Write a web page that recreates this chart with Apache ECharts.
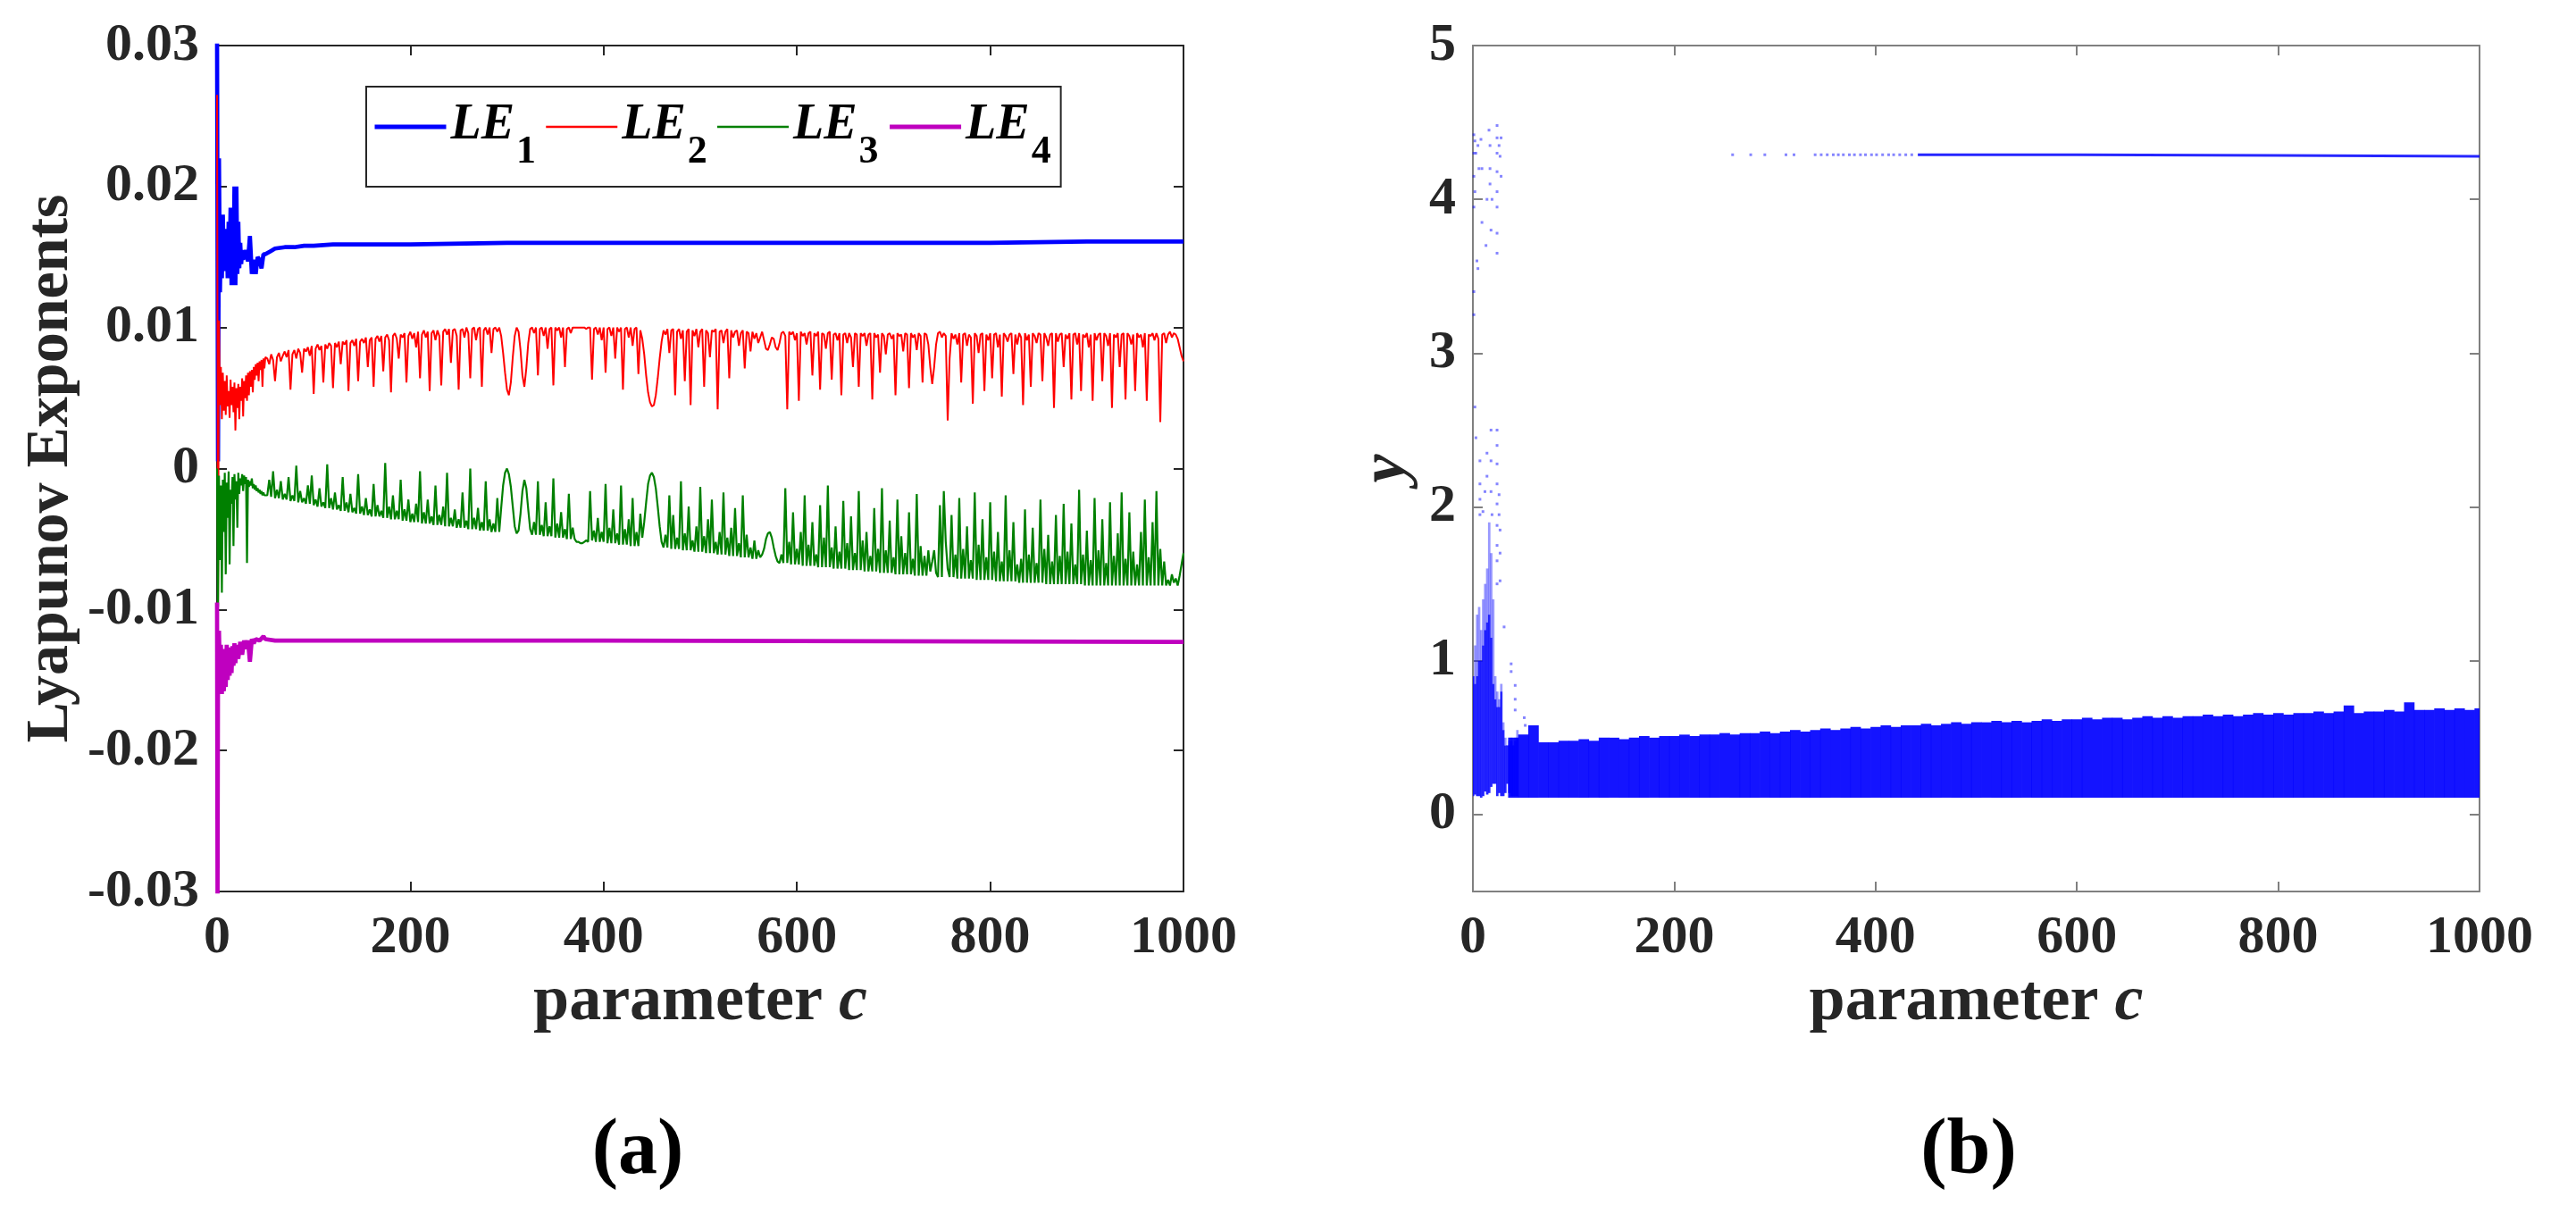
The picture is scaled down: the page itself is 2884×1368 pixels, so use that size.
<!DOCTYPE html>
<html>
<head>
<meta charset="utf-8">
<title>Lyapunov exponents and bifurcation</title>
<script src="https://cdn.jsdelivr.net/npm/echarts@6.0.0/dist/echarts.min.js"></script>
<style>
  html, body { margin: 0; padding: 0; background: #fff; }
  #chart { width: 2884px; height: 1368px; }
</style>
</head>
<body>
<div id="chart"></div>
<script>
// ---- (a) Lyapunov exponents vs parameter c ----
const xTicks = [0, 200, 400, 600, 800, 1000];
const leTicks = [-0.03, -0.02, -0.01, 0, 0.01, 0.02, 0.03];

const le1C = [0, 1, 2, 3, 4, 5, 6, 7, 8, 9, 10, 11, 12, 13, 14, 15, 16, 17, 18, 19, 20, 21, 22, 23, 24, 25, 26, 27, 28, 29,
  30, 32, 34, 36, 38, 40, 42, 44, 46, 48, 50, 55, 60, 70, 80, 90, 100, 120, 150, 200, 300, 400, 500, 600, 700, 800, 900, 950, 1000];
const le1 = [0.031, 0.0005, 0.022, 0.0125, 0.017, 0.0135, 0.018, 0.014, 0.0165, 0.0145, 0.017, 0.0135, 0.0175, 0.0145, 0.0185,
  0.013, 0.018, 0.0135, 0.02, 0.013, 0.02, 0.0138, 0.0175, 0.0142, 0.016, 0.0145, 0.0155, 0.0148, 0.0152, 0.015,
  0.0155, 0.0147, 0.0165, 0.0138, 0.0148, 0.0138, 0.015, 0.0148, 0.0142, 0.0152, 0.0152, 0.0154, 0.0156, 0.0157, 0.0157,
  0.0158, 0.0158, 0.0159, 0.0159, 0.0159, 0.016, 0.016, 0.016, 0.016, 0.016, 0.016, 0.0161, 0.0161, 0.0161];

const le4C = [0, 0.5, 1, 2, 3, 4, 5, 6, 7, 8, 9, 10, 11, 12, 13, 14, 15, 16, 17, 18, 19, 20,
  22, 24, 26, 28, 30, 32, 34, 36, 38, 40, 44, 48, 50, 60, 100, 400, 1000];
const le4 = [-0.0095, -0.031, -0.014, -0.0115, -0.015, -0.0125, -0.016, -0.0128, -0.0158, -0.013, -0.0155, -0.0125,
  -0.015, -0.013, -0.0147, -0.0127, -0.0145, -0.0126, -0.014, -0.0124, -0.0138, -0.0125,
  -0.0135, -0.0123, -0.0132, -0.0122, -0.0128, -0.0122, -0.0137, -0.0121, -0.0124, -0.0121,
  -0.0122, -0.0119, -0.0121, -0.0122, -0.0122, -0.0122, -0.0123];

// LE2 / LE3 sampled at c = 0..50 (step 1), then 52..1000 (step 2)
const cDense = [];
for (let c = 0; c <= 50; c += 1) cDense.push(c);
for (let c = 52; c <= 1000; c += 2) cDense.push(c);

const le2 = [
  // c = 0..50
  0.0265, -0.0095, 0.0105, 0.0045, 0.0072, 0.0035, 0.0068, 0.0041, 0.0062, 0.0038,
  0.0066, 0.0044, 0.0055, 0.0036, 0.0063, 0.0045, 0.0058, 0.004, 0.0061, 0.0027,
  0.0057, 0.0043, 0.006, 0.0035, 0.0058, 0.0048, 0.0064, 0.0037, 0.0062, 0.005,
  0.0066, 0.0048, 0.0068, 0.0052, 0.0069, 0.0058, 0.007, 0.0054, 0.0072, 0.0063,
  0.0074, 0.0066, 0.0075, 0.0062, 0.0076, 0.007, 0.0077, 0.0058, 0.0078, 0.0071, 0.0079,
  // c = 52..1000, 20 units per row
  0.0078, 0.0074, 0.0081, 0.0077, 0.0062, 0.0079, 0.0082, 0.0076, 0.008, 0.0083,
  0.0079, 0.0084, 0.0056, 0.0081, 0.0084, 0.0078, 0.0085, 0.0082, 0.0068, 0.0085,
  0.0083, 0.0086, 0.008, 0.0087, 0.0053, 0.0085, 0.0088, 0.0084, 0.0087, 0.0061,
  0.0088, 0.0085, 0.0089, 0.0087, 0.0057, 0.0089, 0.0086, 0.009, 0.0074, 0.009,
  0.0088, 0.0091, 0.0055, 0.0089, 0.0091, 0.0087, 0.0092, 0.0062, 0.009, 0.0092,
  0.0089, 0.0093, 0.0072, 0.0091, 0.0093, 0.0058, 0.0092, 0.0094, 0.009, 0.0094,
  0.0069, 0.0093, 0.0095, 0.0091, 0.0054, 0.0094, 0.0096, 0.0092, 0.0078, 0.0095,
  0.0093, 0.0096, 0.0061, 0.0094, 0.0097, 0.0092, 0.0096, 0.0086, 0.0097, 0.0064,
  0.0095, 0.0098, 0.0093, 0.0097, 0.0055, 0.0096, 0.0098, 0.0091, 0.0098, 0.0094,
  0.0059, 0.0097, 0.0099, 0.0095, 0.0099, 0.0075, 0.0098, 0.0099, 0.0094, 0.0056,
  0.0098, 0.0099, 0.0093, 0.01, 0.0096, 0.0064, 0.0099, 0.01, 0.0091, 0.0099,
  0.01, 0.0058, 0.0098, 0.01, 0.0095, 0.01, 0.0082, 0.0099, 0.01, 0.0097,
  0.01, 0.0094, 0.0082, 0.0068, 0.0056, 0.0052, 0.0061, 0.0079, 0.0094, 0.01,
  0.0097, 0.0084, 0.0066, 0.0058, 0.0071, 0.0089, 0.0099, 0.01, 0.0096, 0.01,
  0.0066, 0.0099, 0.01, 0.0094, 0.01, 0.0085, 0.0099, 0.01, 0.0059, 0.01,
  0.0098, 0.01, 0.0093, 0.01, 0.0072, 0.0099, 0.01, 0.0096, 0.01, 0.01,
  0.01, 0.01, 0.01, 0.01, 0.01, 0.0099, 0.01, 0.01, 0.0063, 0.0099,
  0.01, 0.0095, 0.01, 0.0091, 0.01, 0.0068, 0.0099, 0.01, 0.0094, 0.01,
  0.0078, 0.01, 0.0097, 0.01, 0.0056, 0.0099, 0.01, 0.0093, 0.01, 0.0087,
  0.0099, 0.01, 0.0067, 0.0098, 0.0092, 0.0081, 0.0066, 0.0054, 0.0047, 0.0044,
  0.0045, 0.0052, 0.0064, 0.0078, 0.009, 0.0098, 0.0095, 0.0099, 0.0082, 0.0098,
  0.0099, 0.0052, 0.0097, 0.0099, 0.0092, 0.0098, 0.0062, 0.0097, 0.0099, 0.0045,
  0.0098, 0.0094, 0.0099, 0.0086, 0.0097, 0.0099, 0.0058, 0.0098, 0.0096, 0.0079,
  0.0098, 0.0097, 0.0099, 0.0042, 0.0097, 0.0098, 0.0089, 0.0097, 0.0099, 0.0064,
  0.0098, 0.0093, 0.0097, 0.0098, 0.0087, 0.0096, 0.0098, 0.0071, 0.0097, 0.0096,
  0.0083, 0.0097, 0.0092, 0.0096, 0.0089, 0.0093, 0.0097, 0.0091, 0.0085, 0.0084,
  0.0088, 0.0093, 0.0092, 0.0086, 0.0084, 0.0089, 0.0096, 0.0097, 0.0094, 0.0042,
  0.0097, 0.0095, 0.0097, 0.0091, 0.0096, 0.0048, 0.0097, 0.0094, 0.0096, 0.0088,
  0.0096, 0.0097, 0.0066, 0.0096, 0.0094, 0.0097, 0.0056, 0.0096, 0.0095, 0.0085,
  0.0096, 0.0097, 0.0063, 0.0095, 0.0096, 0.0091, 0.0096, 0.0052, 0.0095, 0.0096,
  0.0089, 0.0096, 0.0093, 0.0072, 0.0096, 0.0095, 0.0058, 0.0096, 0.0094, 0.0096,
  0.0087, 0.0095, 0.0096, 0.0049, 0.0096, 0.0093, 0.0095, 0.0068, 0.0096, 0.0094,
  0.0081, 0.0095, 0.0096, 0.0092, 0.0095, 0.0052, 0.0096, 0.0094, 0.0095, 0.0083,
  0.0096, 0.0095, 0.0057, 0.0096, 0.0093, 0.0095, 0.0084, 0.0096, 0.0094, 0.0061,
  0.0096, 0.0095, 0.0088, 0.0072, 0.006, 0.0072, 0.0088, 0.0096, 0.0097, 0.0093,
  0.0096, 0.0094, 0.0034, 0.0078, 0.0096, 0.0092, 0.0095, 0.0088, 0.0096, 0.0061,
  0.0095, 0.0096, 0.0087, 0.0095, 0.0093, 0.0046, 0.0096, 0.0094, 0.0082, 0.0095,
  0.0096, 0.0055, 0.0095, 0.0091, 0.0096, 0.0064, 0.0095, 0.0096, 0.0086, 0.0095,
  0.0051, 0.0096, 0.0094, 0.009, 0.0095, 0.0096, 0.0067, 0.0095, 0.0088, 0.0096,
  0.0093, 0.0045, 0.0096, 0.0091, 0.0095, 0.0058, 0.0096, 0.0094, 0.0089, 0.0096,
  0.0095, 0.0062, 0.0096, 0.0093, 0.0087, 0.0095, 0.0096, 0.0043, 0.0096, 0.009,
  0.0095, 0.0096, 0.0072, 0.0095, 0.0092, 0.0096, 0.0049, 0.0095, 0.0096, 0.0088,
  0.0096, 0.0055, 0.0095, 0.0093, 0.0096, 0.0086, 0.0095, 0.0048, 0.0096, 0.0091,
  0.0095, 0.0096, 0.0062, 0.0096, 0.0094, 0.0087, 0.0096, 0.0043, 0.0095, 0.0093,
  0.0096, 0.0072, 0.0095, 0.0096, 0.0049, 0.0096, 0.0094, 0.0088, 0.0095, 0.0055,
  0.0096, 0.0093, 0.0095, 0.0086, 0.0096, 0.0048, 0.0095, 0.0094, 0.0096, 0.0091,
  0.0096, 0.0092, 0.0033, 0.0095, 0.0096, 0.0089, 0.0095, 0.0097, 0.0093, 0.0096,
  0.0095, 0.0092, 0.0086, 0.008, 0.0076,
];

const le3 = [
  // c = 0..50
  0.0, -0.0098, -0.0005, -0.0065, -0.0012, -0.0088, -0.0008, -0.0045, -0.0003, -0.0075,
  -0.001, -0.0035, -0.0002, -0.0068, -0.0015, -0.0025, -0.0006, -0.0055, -0.0004, -0.0022,
  -0.0009, -0.0042, -0.0003, -0.0018, -0.0007, -0.0012, -0.0004, -0.0016, -0.0005, -0.0011,
  -0.0006, -0.0067, -0.0008, -0.0013, -0.0009, -0.0012, -0.0007, -0.0014, -0.0011, -0.0015,
  -0.0012, -0.0016, -0.0014, -0.0017, -0.0015, -0.0018, -0.0016, -0.0019, -0.0017, -0.0019, -0.0018,
  // c = 52..1000, 20 units per row
  -0.0019, -0.0008, -0.002, -0.0002, -0.0021, -0.0015, -0.0021, -0.0009, -0.0022, -0.0018,
  -0.0022, -0.0006, -0.0023, -0.0019, -0.0023, 0.0002, -0.0024, -0.0016, -0.0024, -0.0021,
  -0.0025, -0.0012, -0.0025, -0.0005, -0.0026, -0.0022, -0.0027, -0.0014, -0.0027, -0.0024,
  -0.0028, 0.0003, -0.0028, -0.0021, -0.0029, -0.0017, -0.0029, -0.0026, -0.003, -0.0006,
  -0.003, -0.0024, -0.0031, -0.0018, -0.0031, -0.0028, -0.0032, -0.0004, -0.0032, -0.0027,
  -0.0033, -0.0021, -0.0033, -0.0029, -0.0034, -0.0011, -0.0034, -0.0026, -0.0034, -0.003,
  -0.0035, 0.0004, -0.0035, -0.0027, -0.0036, -0.0019, -0.0036, -0.003, -0.0036, -0.0008,
  -0.0037, -0.0029, -0.0037, -0.0022, -0.0038, -0.0032, -0.0038, -0.0025, -0.0038, -0.0002,
  -0.0039, -0.0031, -0.0039, -0.0022, -0.0039, -0.0034, -0.004, -0.0012, -0.004, -0.0033,
  -0.004, -0.0027, -0.0041, -0.0003, -0.0041, -0.0035, -0.0041, -0.0029, -0.0042, -0.0036,
  -0.0042, -0.0017, -0.0042, -0.0037, -0.0043, 0.0, -0.0043, -0.0035, -0.0043, -0.0028,
  -0.0044, -0.0038, -0.0044, -0.0009, -0.0044, -0.0036, -0.0045, -0.0039, -0.0045, -0.0021,
  -0.0045, -0.0028, -0.0012, -0.0003, 0.0, -0.0004, -0.0013, -0.0027, -0.0041, -0.0046,
  -0.0044, -0.0032, -0.0016, -0.0008, -0.0014, -0.0029, -0.0043, -0.0047, -0.0038, -0.0047,
  -0.0009, -0.0047, -0.004, -0.0048, -0.0024, -0.0048, -0.0041, -0.0048, -0.0007, -0.0049,
  -0.0039, -0.0049, -0.0031, -0.0049, -0.0043, -0.005, -0.0018, -0.005, -0.0042, -0.005,
  -0.0052, -0.0052, -0.0053, -0.0053, -0.0052, -0.0051, -0.0052, -0.0016, -0.0051, -0.0044,
  -0.0052, -0.0035, -0.0052, -0.0045, -0.0052, -0.0011, -0.0053, -0.0042, -0.0053, -0.0029,
  -0.0053, -0.0046, -0.0054, -0.0012, -0.0054, -0.0043, -0.0054, -0.0036, -0.0055, -0.0021,
  -0.0055, -0.0045, -0.0055, -0.0032, -0.0049, -0.0038, -0.0024, -0.0011, -0.0005, -0.0003,
  -0.0006, -0.0014, -0.0027, -0.0041, -0.0052, -0.0056, -0.0047, -0.0056, -0.0019, -0.0057,
  -0.0033, -0.0057, -0.0049, -0.0057, -0.0009, -0.0058, -0.0046, -0.0058, -0.0027, -0.0058,
  -0.0051, -0.0059, -0.0041, -0.0059, -0.0013, -0.0059, -0.0048, -0.006, -0.0036, -0.006,
  -0.0022, -0.006, -0.0052, -0.0061, -0.0045, -0.0061, -0.0017, -0.0061, -0.0049, -0.0062,
  -0.0042, -0.0062, -0.0028, -0.0062, -0.0053, -0.0063, -0.0019, -0.0063, -0.0047, -0.0063,
  -0.0056, -0.0064, -0.0051, -0.0064, -0.0058, -0.0063, -0.0061, -0.0057, -0.005, -0.0046,
  -0.0045, -0.0049, -0.0056, -0.0062, -0.0066, -0.0067, -0.0061, -0.0067, -0.0014, -0.0067,
  -0.0052, -0.0068, -0.0031, -0.0068, -0.0057, -0.0068, -0.0045, -0.0069, -0.0019, -0.0069,
  -0.0054, -0.0069, -0.0038, -0.0069, -0.0061, -0.007, -0.0026, -0.007, -0.0049, -0.007,
  -0.0012, -0.007, -0.0056, -0.0071, -0.0041, -0.0071, -0.0059, -0.0071, -0.0023, -0.0071,
  -0.0053, -0.0072, -0.0034, -0.0072, -0.006, -0.0072, -0.0016, -0.0072, -0.0051, -0.0073,
  -0.0045, -0.0073, -0.0062, -0.0073, -0.0028, -0.0073, -0.0057, -0.0074, -0.0014, -0.0074,
  -0.0058, -0.0074, -0.0037, -0.0074, -0.0063, -0.0075, -0.0022, -0.0075, -0.0048, -0.0075,
  -0.006, -0.0075, -0.0031, -0.0075, -0.0064, -0.0076, -0.0018, -0.0076, -0.0055, -0.0076,
  -0.0062, -0.0076, -0.0058, -0.0073, -0.0066, -0.0058, -0.0074, -0.0077, -0.0026, -0.0077,
  -0.0016, -0.0052, -0.0071, -0.0077, -0.0033, -0.0077, -0.0061, -0.0078, -0.0021, -0.0078,
  -0.0057, -0.0078, -0.0041, -0.0078, -0.0065, -0.0078, -0.0017, -0.0079, -0.0054, -0.0079,
  -0.0036, -0.0079, -0.0063, -0.0079, -0.0024, -0.0079, -0.0059, -0.008, -0.0045, -0.008,
  -0.0066, -0.008, -0.0019, -0.008, -0.0058, -0.008, -0.0038, -0.008, -0.0068, -0.0081,
  -0.0064, -0.0081, -0.0029, -0.0081, -0.0061, -0.0081, -0.0042, -0.0081, -0.0067, -0.0081,
  -0.0022, -0.0081, -0.0057, -0.0082, -0.0047, -0.0082, -0.0066, -0.0082, -0.0033, -0.0082,
  -0.0062, -0.0082, -0.0025, -0.0082, -0.0059, -0.0082, -0.0039, -0.0082, -0.0068, -0.0082,
  -0.0015, -0.0082, -0.0061, -0.0083, -0.0044, -0.0083, -0.0065, -0.0083, -0.0021, -0.0083,
  -0.0058, -0.0083, -0.0036, -0.0083, -0.0067, -0.0083, -0.0024, -0.0083, -0.0062, -0.0083,
  -0.0046, -0.0083, -0.0017, -0.0083, -0.0064, -0.0083, -0.0031, -0.0083, -0.0059, -0.0083,
  -0.0068, -0.0083, -0.0045, -0.0083, -0.0022, -0.0083, -0.0063, -0.0083, -0.0038, -0.0083,
  -0.0016, -0.0083, -0.0057, -0.0083, -0.0066, -0.0083, -0.0079, -0.0083, -0.0075, -0.0081,
  -0.0078, -0.0083, -0.0076, -0.0068, -0.006,
];

// ---- (b) bifurcation diagram of y vs parameter c ----
const yTicks = [0, 1, 2, 3, 4, 5];

// main chaotic band, one column every 10 units of c from 40 to 1000
const bandLow = 0.11;
const bandTop = [
  0.5, 0.52, 0.58, 0.47, 0.47, 0.48, 0.48, 0.49, 0.48, 0.5,
  0.5, 0.49, 0.5, 0.51, 0.5, 0.51, 0.51, 0.52, 0.51, 0.52,
  0.52, 0.53, 0.52, 0.53, 0.53, 0.54, 0.53, 0.54, 0.55, 0.54,
  0.55, 0.56, 0.55, 0.56, 0.57, 0.56, 0.57, 0.58, 0.57, 0.58,
  0.58, 0.59, 0.58, 0.59, 0.6, 0.59, 0.6, 0.6, 0.61, 0.6,
  0.61, 0.6, 0.61, 0.62, 0.61, 0.62, 0.62, 0.63, 0.62, 0.63,
  0.63, 0.62, 0.63, 0.64, 0.63, 0.64, 0.63, 0.64, 0.64, 0.65,
  0.64, 0.65, 0.64, 0.65, 0.66, 0.65, 0.66, 0.65, 0.66, 0.66,
  0.67, 0.66, 0.67, 0.71, 0.66, 0.67, 0.67, 0.68, 0.67, 0.73,
  0.68, 0.68, 0.69, 0.68, 0.69, 0.68, 0.69,
];
const bandC = [];
for (let c = 40; c <= 1000; c += 10) bandC.push(c);

// transient region at small c
const transC = [0, 2, 4, 6, 8, 10, 12, 14, 16, 18, 20, 22, 24, 26, 28, 30, 32, 34, 36, 38, 40, 42, 44];
const transLow = [0.12, 0.13, 0.12, 0.12, 0.11, 0.12, 0.15, 0.13, 0.14, 0.18, 0.2, 0.2, 0.12, 0.14, 0.12, 0.12, 0.14, 0.2, 0.14, 0.12, 0.12, 0.12, 0.12];
const transCore = [0.9, 0.85, 0.9, 1.0, 1.0, 1.1, 1.2, 1.25, 1.3, 1.15, 0.85, 0.75, 0.7, 0.7, 0.8, 0.55, 0.45, 0.45, 0.45, 0.48, 0.45, 0.48, 0.5];
const transHigh = [0.9, 1.1, 1.3, 1.35, 1.2, 1.4, 1.5, 1.6, 1.9, 1.7, 1.4, 0.9, 0.8, 0.75, 0.85, 0.6, 0.5, 0.45, 0.48, 0.5, 0.45, 0.5, 0.55];

const dotC = [1, 1, 1, 1, 1, 1, 2, 2, 3, 4, 5, 5, 6, 8, 9, 9, 13, 14, 16, 17, 17, 17, 18, 19,
  24, 24, 24, 24, 24, 24, 24, 24, 26, 27, 28, 28,
  2, 3, 7, 7, 7, 7, 10, 12, 14, 14, 18, 18, 18, 19, 24, 24, 24, 24, 24, 24, 24, 24, 24,
  26, 26, 27, 27, 27, 31, 38, 38, 42, 42, 42, 51, 52];
const dotY = [4.42, 4.3, 4.15, 3.95, 3.4, 3.25, 4.05, 4.38, 4.3, 3.6, 3.55, 4.35, 4.2, 4.39, 4.2, 3.85, 3.7, 4.0, 4.45, 4.35, 4.2, 4.1, 3.8, 4.0,
  4.48, 4.4, 4.3, 4.18, 4.05, 3.95, 3.78, 3.65, 4.35, 4.28, 4.15, 4.4,
  2.65, 2.45, 2.3, 2.15, 2.05, 1.95, 1.97, 2.1, 2.35, 2.2, 2.5, 2.3, 2.1, 1.95, 2.5, 2.4, 2.28, 2.15, 2.02, 1.88, 1.75, 1.65, 1.5,
  2.08, 1.95, 1.85, 1.7, 1.52, 1.22, 0.98, 0.93, 0.84, 0.75, 0.68, 0.63, 0.58];

// period-1 branch near y = 4.28
const upperDotC = [258, 276, 290, 311, 319, 340, 346, 352, 358, 363, 368, 374, 379, 385, 390, 396, 401, 407, 413, 418, 424, 430, 436];
const upperDotY = [4.29, 4.29, 4.29, 4.29, 4.29, 4.29, 4.29, 4.29, 4.29, 4.29, 4.29, 4.29, 4.29, 4.29, 4.29, 4.29, 4.29, 4.29, 4.29, 4.29, 4.29, 4.29, 4.29];
const upperLineC = [442, 600, 800, 1000];
const upperLineY = [4.29, 4.29, 4.285, 4.28];

const zip = (xs, ys) => xs.map((x, i) => [x, ys[i]]);

const FONT = '"Liberation Serif", "Times New Roman", serif';
const INK = '#262626';

function rangeBars(step, opacity) {
  return function (params, api) {
    const c = api.value(0);
    const top = api.coord([c, api.value(2)]);
    const bottom = api.coord([c, api.value(1)]);
    const w = api.size([step, 0])[0];
    return {
      type: 'rect',
      shape: { x: top[0] - w / 2, y: top[1], width: w + 0.5, height: bottom[1] - top[1] },
      style: { fill: '#0000ff', opacity },
    };
  };
}

function boxAxis(extra, color) {
  return Object.assign({
    type: 'value',
    axisLine: { show: true, onZero: false, lineStyle: { color, width: 2 } },
    axisTick: { show: true, inside: true, length: 11, lineStyle: { color, width: 2 } },
    splitLine: { show: false },
    axisLabel: { show: false },
  }, extra);
}

const tickLabel = { show: true, fontFamily: FONT, fontWeight: 'bold', fontSize: 60, color: INK, formatter: v => String(v) };
const nameRich = {
  n: { fontFamily: FONT, fontWeight: 'bold', fontSize: 72, color: INK },
  i: { fontFamily: FONT, fontWeight: 'bold', fontStyle: 'italic', fontSize: 72, color: INK },
};
const legendLine = [5, 2.4, 2.4, 5];

const myChart = echarts.init(document.getElementById('chart'));
const option = {
  animation: false,
  backgroundColor: '#fff',
  grid: [
    { left: 243, top: 51, width: 1082, height: 947 },
    { left: 1649, top: 51, width: 1127, height: 947 },
  ],
  legend: {
    left: 410,
    top: 97,
    padding: [16, 11, 16, 7],
    itemWidth: 80,
    itemHeight: 14,
    itemGap: 10,
    backgroundColor: '#fff',
    borderColor: INK,
    borderWidth: 2,
    selectedMode: false,
    itemStyle: { opacity: 0 },
    data: ['LE1', 'LE2', 'LE3', 'LE4'].map((name, i) => ({ name, lineStyle: { width: legendLine[i] } })),
    formatter: name => '{i|LE}{s|' + name.slice(2) + '}',
    textStyle: {
      rich: {
        i: { fontFamily: FONT, fontWeight: 'bold', fontStyle: 'italic', fontSize: 56, lineHeight: 58, verticalAlign: 'top', color: '#000' },
        s: { fontFamily: FONT, fontWeight: 'bold', fontSize: 44, lineHeight: 44, padding: [36, 0, 0, 2], verticalAlign: 'top', color: '#000' },
      },
    },
  },
  xAxis: [
    boxAxis({
      gridIndex: 0, min: 0, max: 1000, interval: 200,
      axisLabel: Object.assign({ margin: 22 }, tickLabel),
      name: '{n|parameter }{i|c}', nameLocation: 'middle', nameGap: 88,
      nameTextStyle: { rich: nameRich },
    }, INK),
    boxAxis({ gridIndex: 0, position: 'top', min: 0, max: 1000, interval: 200 }, INK),
    boxAxis({
      gridIndex: 1, min: 0, max: 1000, interval: 200,
      axisLabel: Object.assign({ margin: 22 }, tickLabel),
      name: '{n|parameter }{i|c}', nameLocation: 'middle', nameGap: 88,
      nameTextStyle: { rich: nameRich },
    }, '#808080'),
    boxAxis({ gridIndex: 1, position: 'top', min: 0, max: 1000, interval: 200 }, '#808080'),
  ],
  yAxis: [
    boxAxis({
      gridIndex: 0, min: leTicks[0], max: leTicks[leTicks.length - 1], interval: 0.01,
      axisLabel: Object.assign({ margin: 20 }, tickLabel),
      name: 'Lyapunov Exponents', nameLocation: 'middle', nameGap: 152,
      nameTextStyle: { fontFamily: FONT, fontWeight: 'bold', fontSize: 68, color: INK },
    }, INK),
    boxAxis({ gridIndex: 0, position: 'right', min: -0.03, max: 0.03, interval: 0.01 }, INK),
    boxAxis({
      gridIndex: 1, min: -0.5, max: 5,
      axisTick: { show: true, inside: true, length: 11, customValues: yTicks, lineStyle: { color: '#808080', width: 2 } },
      axisLabel: Object.assign({ margin: 19, customValues: yTicks }, tickLabel),
      name: '{i|y}', nameLocation: 'middle', nameGap: 60,
      nameTextStyle: { rich: nameRich },
    }, '#808080'),
    boxAxis({
      gridIndex: 1, position: 'right', min: -0.5, max: 5,
      axisTick: { show: true, inside: true, length: 11, customValues: yTicks, lineStyle: { color: '#808080', width: 2 } },
    }, '#808080'),
  ],
  series: [
    { name: 'LE1', type: 'line', xAxisIndex: 0, yAxisIndex: 0, symbol: 'none', color: '#0000ff', lineStyle: { width: 4.7 }, data: zip(le1C, le1) },
    { name: 'LE2', type: 'line', xAxisIndex: 0, yAxisIndex: 0, symbol: 'none', color: '#ff0000', lineStyle: { width: 2 }, data: zip(cDense, le2) },
    { name: 'LE3', type: 'line', xAxisIndex: 0, yAxisIndex: 0, symbol: 'none', color: '#008000', lineStyle: { width: 2.2 }, data: zip(cDense, le3) },
    { name: 'LE4', type: 'line', xAxisIndex: 0, yAxisIndex: 0, symbol: 'none', color: '#bf00bf', lineStyle: { width: 4.7 }, data: zip(le4C, le4) },

    {
      type: 'custom', xAxisIndex: 2, yAxisIndex: 2, clip: true,
      renderItem: rangeBars(2, 0.4),
      encode: { x: 0, y: [1, 2] },
      data: transC.map((c, i) => [c, transCore[i], transHigh[i]]),
    },
    {
      type: 'custom', xAxisIndex: 2, yAxisIndex: 2, clip: true,
      renderItem: rangeBars(2, 0.85),
      encode: { x: 0, y: [1, 2] },
      data: transC.map((c, i) => [c, transLow[i], transCore[i]]),
    },
    {
      type: 'custom', xAxisIndex: 2, yAxisIndex: 2, clip: true,
      renderItem: rangeBars(10, 0.92),
      encode: { x: 0, y: [1, 2] },
      data: bandC.map((c, i) => [c, bandLow, bandTop[i]]),
    },
    {
      type: 'scatter', xAxisIndex: 2, yAxisIndex: 2, symbol: 'rect', symbolSize: 3,
      itemStyle: { color: 'rgba(0,0,255,0.6)' },
      data: zip(dotC, dotY).concat(zip(upperDotC, upperDotY)),
    },
    {
      type: 'line', xAxisIndex: 2, yAxisIndex: 2, symbol: 'none',
      lineStyle: { color: 'rgba(0,0,255,0.85)', width: 3 },
      data: zip(upperLineC, upperLineY),
    },
  ],
  graphic: [
    { type: 'text', x: 714, y: 1290, style: { text: '(a)', font: 'bold 88px ' + FONT, fill: '#000', align: 'center', verticalAlign: 'middle' } },
    { type: 'text', x: 2204, y: 1290, style: { text: '(b)', font: 'bold 88px ' + FONT, fill: '#000', align: 'center', verticalAlign: 'middle' } },
  ],
};
myChart.setOption(option);
</script>
</body>
</html>
